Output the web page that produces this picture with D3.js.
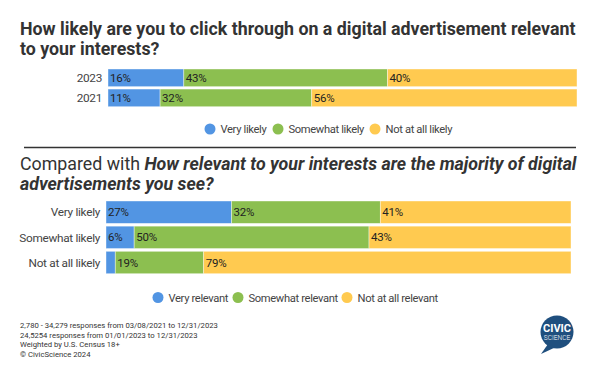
<!DOCTYPE html>
<html>
<head>
<meta charset="utf-8">
<script src="https://cdn.jsdelivr.net/npm/d3@7"></script>
<style>
  body { margin: 0; background: #fff; }
  svg { display: block; font-family: Roboto, "Noto Sans", sans-serif; }
</style>
</head>
<body>
<div id="chart"></div>
<script>
// top question
const years = ['2023', '2021'];
const likelyKeys = ['Very likely', 'Somewhat likely', 'Not at all likely'];
const likely2023 = [16, 43, 40];
const likely2021 = [11, 32, 56];

// bottom question
const likelyGroups = ['Very likely', 'Somewhat likely', 'Not at all likely'];
const relevantKeys = ['Very relevant', 'Somewhat relevant', 'Not at all relevant'];
const relVeryLikely = [27, 32, 41];
const relSomewhatLikely = [6, 50, 43];
const relNotLikely = [2, 19, 79];

const footerLines = [
  '2,780 - 34,279 responses from 03/08/2021 to 12/31/2023',
  '24,5254 responses from 01/01/2023 to 12/31/2023',
  'Weighted by U.S. Census 18+',
  '\u00a9 CivicScience 2024'
];

const colors = ['#5295e3', '#8cbf50', '#ffca50'];
const width = 600;
const height = 377;

const svg = d3.select('#chart').append('svg')
    .attr('width', width)
    .attr('height', height);

function toRows(cats, keys, valueArrays) {
  return cats.map((c, i) => {
    const row = { cat: c };
    keys.forEach((k, j) => { row[k] = valueArrays[i][j]; });
    return row;
  });
}

function drawStack(rows, keys, x, y, minLabel) {
  const series = d3.stack().keys(keys).offset(d3.stackOffsetExpand)(rows);
  const g = svg.append('g');
  series.forEach((s, si) => {
    g.selectAll(null)
      .data(s)
      .join('rect')
        .attr('x', d => x(d[0]))
        .attr('y', d => y(d.data.cat))
        .attr('width', d => x(d[1]) - x(d[0]))
        .attr('height', y.bandwidth())
        .attr('fill', colors[si])
        .attr('stroke', '#fff')
        .attr('stroke-opacity', 0.5)
        .attr('stroke-width', 0.8);
    g.selectAll(null)
      .data(s.filter(d => d.data[s.key] >= minLabel))
      .join('text')
        .attr('x', d => x(d[0]) + 2)
        .attr('y', d => y(d.data.cat) + y.bandwidth() / 2)
        .attr('dy', '0.36em')
        .attr('font-size', 11.5)
        .attr('letter-spacing', -0.2)
        .attr('fill', '#222')
        .text(d => d.data[s.key] + '%');
  });
  // category labels
  g.selectAll(null)
    .data(rows)
    .join('text')
      .attr('x', x.range()[0] - 6)
      .attr('y', d => y(d.cat) + y.bandwidth() / 2)
      .attr('dy', '0.36em')
      .attr('text-anchor', 'end')
      .attr('font-size', 11.8)
      .attr('letter-spacing', -0.3)
      .attr('fill', '#444')
      .text(d => d.cat);
}

function drawLegend(keys, xs, yPos) {
  const g = svg.append('g');
  keys.forEach((k, i) => {
    g.append('circle')
        .attr('cx', xs[i])
        .attr('cy', yPos)
        .attr('r', 5.5)
        .attr('fill', colors[i]);
    g.append('text')
        .attr('x', xs[i] + 10.5)
        .attr('y', yPos)
        .attr('dy', '0.36em')
        .attr('font-size', 11.2)
        .attr('letter-spacing', -0.35)
        .attr('fill', '#444')
        .text(k);
  });
}

// Title 1
const t1 = svg.append('text')
    .attr('font-size', 17.8)
    .attr('font-weight', 700)
    .attr('fill', '#333');
t1.append('tspan').attr('x', 20).attr('y', 35)
    .text('How likely are you to click through on a digital advertisement relevant');
t1.append('tspan').attr('x', 20).attr('y', 55).text('to your interests?');

// Top chart
const rowsTop = toRows(years, likelyKeys, [likely2023, likely2021]);
const xTop = d3.scaleLinear().domain([0, 1]).range([108, 577]);
const yTop = d3.scaleBand().domain(years).range([69, 106.7]).paddingInner(0.12);
drawStack(rowsTop, likelyKeys, xTop, yTop, 4);
drawLegend(likelyKeys, [210, 278, 375], 129);

// separator
svg.append('line')
    .attr('x1', 24).attr('x2', 576)
    .attr('y1', 147.5).attr('y2', 147.5)
    .attr('stroke', '#333')
    .attr('stroke-width', 1.5);

// Title 2
const t2 = svg.append('text')
    .attr('font-size', 17.8)
    .attr('fill', '#333');
const l1 = t2.append('tspan').attr('x', 20).attr('y', 170);
l1.append('tspan').text('Compared with ');
l1.append('tspan').attr('font-weight', 700).attr('font-style', 'italic')
    .text('How relevant to your interests are the majority of digital');
t2.append('tspan').attr('x', 20).attr('y', 190)
    .attr('font-weight', 700).attr('font-style', 'italic')
    .text('advertisements you see?');

// Bottom chart
const rowsBottom = toRows(likelyGroups, relevantKeys, [relVeryLikely, relSomewhatLikely, relNotLikely]);
const xBottom = d3.scaleLinear().domain([0, 1]).range([106, 571]);
const yBottom = d3.scaleBand().domain(likelyGroups).range([201, 273.7]).paddingInner(0.11);
drawStack(rowsBottom, relevantKeys, xBottom, yBottom, 4);
drawLegend(relevantKeys, [158, 238, 347], 297.5);

// footer
svg.append('g')
  .selectAll('text')
  .data(footerLines)
  .join('text')
    .attr('x', 20)
    .attr('y', (d, i) => 328 + i * 9.6)
    .attr('font-size', 7.7)
    .attr('fill', '#333')
    .text(d => d);

// logo
const logo = svg.append('g').attr('transform', 'translate(557,332)');
logo.append('path')
    .attr('d', 'M-9,12 L-16,22 L-1,15 Z')
    .attr('fill', '#1f4f7e');
logo.append('circle').attr('r', 16.5).attr('fill', '#1f4f7e');
logo.append('text')
    .attr('y', -0.5)
    .attr('text-anchor', 'middle')
    .attr('font-size', 11)
    .attr('font-weight', 700)
    .attr('fill', '#fff')
    .text('CIVIC');
logo.append('text')
    .attr('y', 8)
    .attr('text-anchor', 'middle')
    .attr('font-size', 6.6)
    .attr('font-weight', 300)
    .attr('fill', '#fff')
    .text('SCIENCE');
</script>
</body>
</html>
